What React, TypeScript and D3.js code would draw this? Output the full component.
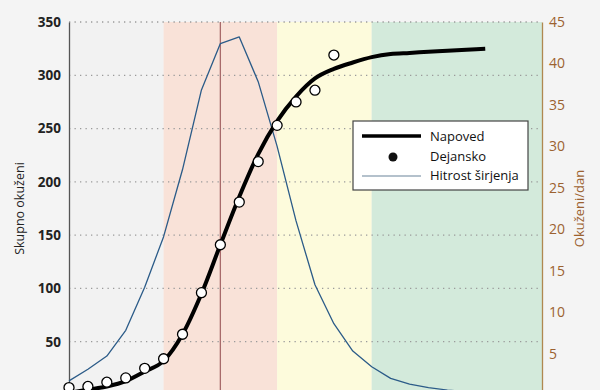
import { useEffect, useRef } from 'react'
import * as d3 from 'd3'

// day index 0..22 for the forecast, 0..14 for measured cases
const forecastDays = d3.range(0, 23)
const forecast = [2, 5, 8, 13, 22, 32, 57, 95, 141, 186, 226, 257, 280, 297, 306, 312, 317, 320, 321, 322, 323, 324, 325]
const actual = [7, 8, 12, 16, 25, 34, 57, 96, 141, 181, 219, 253, 275, 286, 319]
const rate = [1.7, 3.1, 4.7, 7.8, 13, 19.1, 27.2, 36.8, 42.4, 43.2, 37.8, 30, 21, 13.3, 8.6, 5.3, 3.4, 2.0, 1.3, 0.9, 0.6, 0.4, 0.3]
const leftTicks = [50, 100, 150, 200, 250, 300, 350]
const rightTicks = [5, 10, 15, 20, 25, 30, 35, 40, 45]
const bands = [
    { from: 0, to: 5, color: '#f2f2f2' },
    { from: 5, to: 11, color: '#f9e2d8' },
    { from: 11, to: 16, color: '#fdfbdc' },
    { from: 16, to: 25, color: '#d3eadb' },
]
const markerDay = 8

function App() {
    const ref = useRef(null)

    useEffect(() => {
        const svg = d3.select(ref.current)
        svg.selectAll('*').remove()

        const left = 69
        const right = 542
        const top = 22
        const bottom = 395
        const font = "'Open Sans', 'Noto Sans', sans-serif"

        const x = d3.scaleLinear().domain([0, 25]).range([left, right])
        const yL = d3.scaleLinear().domain([0, 350]).range([bottom, top])
        const yR = d3.scaleLinear().domain([0, 45]).range([bottom, top])

        svg.append('rect').attr('width', 600).attr('height', 390).attr('fill', '#f4f4f4')

        svg.selectAll('rect.band')
            .data(bands)
            .enter()
            .append('rect')
            .attr('class', 'band')
            .attr('x', d => x(d.from))
            .attr('y', top)
            .attr('width', d => x(d.to) - x(d.from))
            .attr('height', bottom - top)
            .attr('fill', d => d.color)

        // dotted grid
        svg.selectAll('line.grid')
            .data(leftTicks)
            .enter()
            .append('line')
            .attr('x1', left)
            .attr('x2', right)
            .attr('y1', d => yL(d))
            .attr('y2', d => yL(d))
            .attr('stroke', '#9a9a9a')
            .attr('stroke-width', 1.3)
            .attr('stroke-dasharray', '1.3,4.2')

        svg.append('line')
            .attr('x1', x(markerDay))
            .attr('x2', x(markerDay))
            .attr('y1', top)
            .attr('y2', bottom)
            .attr('stroke', '#a86a6a')
            .attr('stroke-width', 1.3)

        // left axis
        const gl = svg.append('g')
            .attr('transform', `translate(${left},0)`)
            .call(d3.axisLeft(yL).tickValues(leftTicks).tickSize(0).tickPadding(8))
        gl.select('.domain').attr('stroke', '#555').attr('stroke-width', 1.3)
        gl.selectAll('text')
            .attr('font-family', font)
            .attr('font-size', 13.5)
            .attr('font-weight', 700)
            .attr('fill', '#222')

        // right axis
        const gr = svg.append('g')
            .attr('transform', `translate(${right},0)`)
            .call(d3.axisRight(yR).tickValues(rightTicks).tickSize(0).tickPadding(7))
        gr.select('.domain').attr('stroke', '#b08850').attr('stroke-width', 1.3)
        gr.selectAll('text')
            .attr('font-family', font)
            .attr('font-size', 14)
            .attr('fill', '#9c6230')

        svg.append('text')
            .attr('transform', `translate(24, ${(top + bottom) / 2}) rotate(-90)`)
            .attr('text-anchor', 'middle')
            .attr('font-family', font)
            .attr('font-size', 12.5)
            .attr('fill', '#222')
            .text('Skupno okuženi')

        svg.append('text')
            .attr('transform', `translate(584, ${(top + bottom) / 2}) rotate(-90)`)
            .attr('text-anchor', 'middle')
            .attr('font-family', font)
            .attr('font-size', 13)
            .attr('fill', '#9c6230')
            .text('Okuženi/dan')

        const rateLine = d3.line()
            .x((d, i) => x(i))
            .y(d => yR(d))
        svg.append('path')
            .datum(rate)
            .attr('d', rateLine)
            .attr('fill', 'none')
            .attr('stroke', '#2b5b88')
            .attr('stroke-width', 1.3)
            .attr('stroke-linejoin', 'round')

        const forecastLine = d3.line()
            .x((d, i) => x(forecastDays[i]))
            .y(d => yL(d))
            .curve(d3.curveMonotoneX)
        svg.append('path')
            .datum(forecast)
            .attr('d', forecastLine)
            .attr('fill', 'none')
            .attr('stroke', '#000')
            .attr('stroke-width', 4)

        svg.selectAll('circle.actual')
            .data(actual)
            .enter()
            .append('circle')
            .attr('cx', (d, i) => x(i))
            .attr('cy', d => yL(d))
            .attr('r', 5)
            .attr('fill', '#fff')
            .attr('stroke', '#000')
            .attr('stroke-width', 1.3)

        // legend
        const lg = svg.append('g').attr('transform', 'translate(353,121)')
        lg.append('rect')
            .attr('width', 175)
            .attr('height', 69)
            .attr('fill', '#fff')
            .attr('stroke', '#444')
            .attr('stroke-width', 1.2)
        lg.append('line').attr('x1', 9).attr('x2', 68).attr('y1', 15).attr('y2', 15)
            .attr('stroke', '#000').attr('stroke-width', 3.5)
        lg.append('circle').attr('cx', 40).attr('cy', 36).attr('r', 4.5).attr('fill', '#111')
        lg.append('line').attr('x1', 9).attr('x2', 68).attr('y1', 55).attr('y2', 55)
            .attr('stroke', '#6b8499').attr('stroke-width', 1.2)
        const labels = ['Napoved', 'Dejansko', 'Hitrost širjenja']
        lg.selectAll('text')
            .data(labels)
            .enter()
            .append('text')
            .attr('x', 77)
            .attr('y', (d, i) => 20 + i * 19.5)
            .attr('font-family', font)
            .attr('font-size', 13)
            .attr('fill', '#111')
            .text(d => d)
    }, [])

    return (
        <svg ref={ref} width={600} height={390} style={{ position: 'absolute', left: 0, top: 0 }} />
    )
}

export default App
